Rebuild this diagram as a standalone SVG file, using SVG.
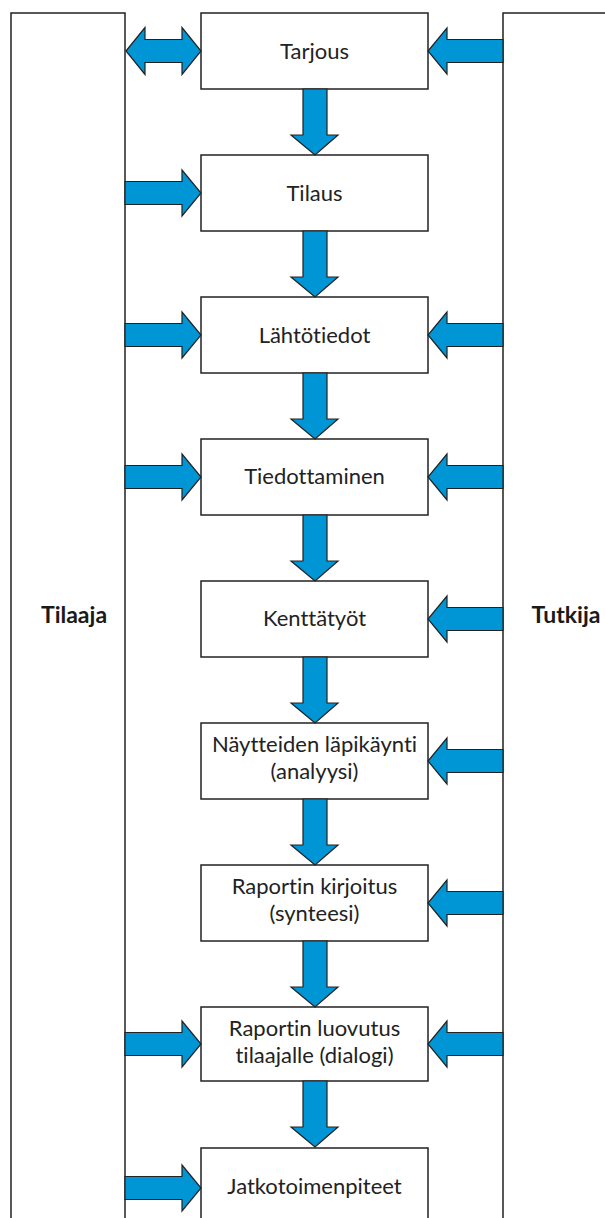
<svg xmlns="http://www.w3.org/2000/svg" width="605" height="1218" viewBox="0 0 605 1218">
<style>
.lane{fill:#fff;stroke:#222;stroke-width:1.5}
.box{fill:#fff;stroke:#222;stroke-width:1.5}
.arr{fill:#0095d5;stroke:#222;stroke-width:1.2;stroke-linejoin:miter}
.t{font-family:Lato,"Liberation Sans",sans-serif;font-size:22px;fill:#222;text-anchor:middle;font-variant-ligatures:none}
.lbl{font-family:Lato,"Liberation Sans",sans-serif;font-size:23px;font-weight:bold;fill:#1a1a1a;text-anchor:middle}
</style>
<defs>
<path id="la" d="M125,-11.5 H182 V-23 L201,0 L182,23 V11.5 H125 Z"/>
<path id="ra" d="M503,-11.5 H447 V-23 L428,0 L447,23 V11.5 H503 Z"/>
<path id="da" d="M303,0 H327 V46 H338 L315,66 L291,46 H303 Z"/>
</defs>
<g id="tilaaja">
<rect class="lane" x="11" y="13" width="114" height="1230"/>
<text class="lbl" x="74" y="623">Tilaaja</text>
</g>
<g id="tutkija">
<rect class="lane" x="503" y="13" width="120" height="1230"/>
<text class="lbl" x="566" y="623">Tutkija</text>
</g>
<g id="n1"><rect class="box" x="201" y="13" width="227" height="76"/><text class="t" x="314.5" y="59">Tarjous</text></g>
<g id="n2"><rect class="box" x="201" y="155" width="227" height="76"/><text class="t" x="314.5" y="201">Tilaus</text></g>
<g id="n3"><rect class="box" x="201" y="297" width="227" height="76"/><text class="t" x="314.5" y="343">Lähtötiedot</text></g>
<g id="n4"><rect class="box" x="201" y="439" width="227" height="76"/><text class="t" x="314.5" y="484">Tiedottaminen</text></g>
<g id="n5"><rect class="box" x="201" y="581" width="227" height="76"/><text class="t" x="314.5" y="626">Kenttätyöt</text></g>
<g id="n6"><rect class="box" x="201" y="723" width="227" height="76"/><text class="t" x="314.5" y="752">Näytteiden läpikäynti</text><text class="t" x="314.5" y="779">(analyysi)</text></g>
<g id="n7"><rect class="box" x="201" y="865" width="227" height="76"/><text class="t" x="314.5" y="894">Raportin kirjoitus</text><text class="t" x="314.5" y="921">(synteesi)</text></g>
<g id="n8"><rect class="box" x="201" y="1007" width="227" height="74"/><text class="t" x="314.5" y="1036">Raportin luovutus</text><text class="t" x="314.5" y="1063">tilaajalle (dialogi)</text></g>
<g id="n9"><rect class="box" x="201" y="1148" width="227" height="90"/><text class="t" x="314.5" y="1194">Jatkotoimenpiteet</text></g>
<g id="connectors">
<path class="arr" d="M126,51 L145,27.5 V39.5 H182 V27.5 L201,51 L182,74.5 V62.5 H145 V74.5 Z"/>
<use class="arr" href="#ra" y="51"/>
<use class="arr" href="#la" y="193"/>
<use class="arr" href="#la" y="335"/>
<use class="arr" href="#ra" y="335"/>
<use class="arr" href="#la" y="477"/>
<use class="arr" href="#ra" y="477"/>
<use class="arr" href="#ra" y="619"/>
<use class="arr" href="#ra" y="761"/>
<use class="arr" href="#ra" y="903"/>
<use class="arr" href="#la" y="1044"/>
<use class="arr" href="#ra" y="1044"/>
<use class="arr" href="#la" y="1188"/>
<use class="arr" href="#da" y="89"/>
<use class="arr" href="#da" y="231"/>
<use class="arr" href="#da" y="373"/>
<use class="arr" href="#da" y="515"/>
<use class="arr" href="#da" y="657"/>
<use class="arr" href="#da" y="799"/>
<use class="arr" href="#da" y="941"/>
<use class="arr" href="#da" y="1081"/>
</g>
</svg>
